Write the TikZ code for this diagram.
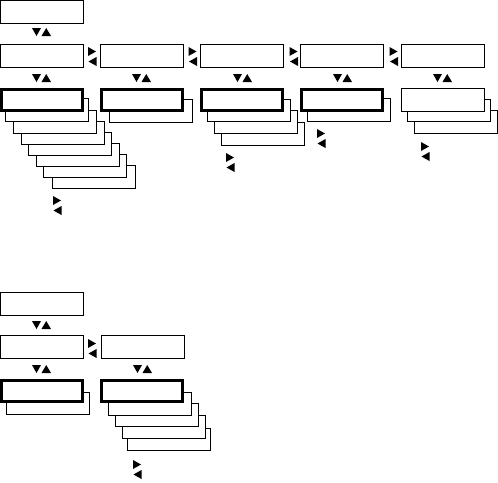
\documentclass[tikz,border=0pt]{standalone}
\begin{document}
\begin{tikzpicture}[x=1pt,y=-1pt,
  box/.style={draw=black,fill=white,line width=1pt,rectangle,anchor=north west,
    minimum width=83pt,minimum height=22.5pt,inner sep=0pt,outer sep=0pt},
  selbox/.style={box,line width=2.6pt,minimum width=81.4pt,minimum height=20.9pt}]
\useasboundingbox (0,0) rectangle (498,482);
% triangle helpers
\newcommand\updown[2]{% centre x, top y
  \fill (#1-10,#2) -- (#1-1,#2) -- (#1-5.5,#2+8) -- cycle;
  \fill (#1-0.5,#2+8) -- (#1+9,#2+8) -- (#1+4.25,#2) -- cycle;}
\newcommand\leftright[2]{% left x, top y
  \fill (#1,#2) -- (#1+8,#2+4.5) -- (#1,#2+9) -- cycle;
  \fill (#1+8.5,#2+10) -- (#1+8.5,#2+19) -- (#1+0.5,#2+14.5) -- cycle;}

% ===== upper diagram =====
\node[box] (a0) at (0.5,0.5) {};
\updown{42}{28}
\node[box] (a1) at (0.5,44.5) {};
\node[box] (a2) at (100.5,44.5) {};
\node[box] (a3) at (200.5,44.5) {};
\node[box] (a4) at (300.5,44.5) {};
\node[box] (a5) at (401.5,44.5) {};
\leftright{88}{47}
\leftright{289.5}{47}
\leftright{389.5}{47}
\leftright{188.5}{47}
\updown{42}{74}
\updown{142}{74}
\updown{243}{74}
\updown{343}{74}
\updown{443}{74}

% column 1 stack
\node[box] (s1g) at (52.5,165.5) {};
\node[box] (s1f) at (43.5,154.5) {};
\node[box] (s1e) at (36,143.5) {};
\node[box] (s1d) at (28.5,132.5) {};
\node[box] (s1c) at (21,121.5) {};
\node[box] (s1b) at (13.5,110.5) {};
\node[box] (s1a) at (5.5,98.5) {};
\node[selbox] (f1) at (1.3,89.3) {};
\leftright{53}{196}

% column 2 stack
\node[box] (s2a) at (109,99.5) {};
\node[selbox] (f2) at (101.3,89.3) {};

% column 3 stack
\node[box] (s3c) at (221,122.5) {};
\node[box] (s3b) at (214,110.5) {};
\node[box] (s3a) at (207,99) {};
\node[selbox] (f3) at (201.3,89.3) {};
\leftright{226}{153}

% column 4 stack
\node[box] (s4a) at (307.5,98.5) {};
\node[selbox] (f4) at (301.3,89.3) {};
\leftright{317}{129}

% column 5 stack
\node[box] (s5b) at (414,110.5) {};
\node[box] (s5a) at (407.5,99) {};
\node[box] (f5) at (401.5,88.5) {};
\leftright{421}{142}

% ===== lower diagram =====
\node[box] (b0) at (0.5,292.5) {};
\updown{42}{321}
\node[box] (b1) at (0.5,335.5) {};
\node[box] (b2) at (101,335.5) {};
\leftright{88}{339}
\updown{42}{365}
\updown{143}{365}

\node[box] (t1a) at (6.5,392) {};
\node[selbox] (g1) at (1.3,380.3) {};

\node[box] (t2d) at (127.5,428) {};
\node[box] (t2c) at (122,415.5) {};
\node[box] (t2b) at (115.5,403.5) {};
\node[box] (t2a) at (108.5,392.5) {};
\node[selbox] (g2) at (101.3,380.3) {};
\leftright{133}{460}
\end{tikzpicture}
\end{document}
